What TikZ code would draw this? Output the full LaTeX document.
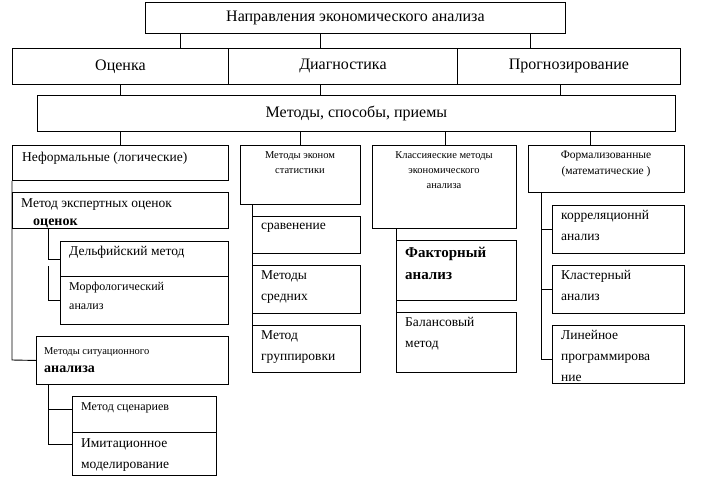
\documentclass[tikz,border=0pt]{standalone}
\usepackage{fontspec}
\setmainfont{Liberation Serif}
\usetikzlibrary{calc}
\tikzset{box/.style={draw,line width=0.9pt,inner sep=0pt,anchor=north west},
  wh/.style 2 args={minimum width=#1pt,minimum height=#2pt},
  ln/.style={line width=0.9pt},
  tl/.style={anchor=north west,align=left,inner sep=0pt,font=\fontsize{13.5}{21}\selectfont},
  sm/.style={anchor=north,align=center,inner sep=0pt,font=\fontsize{10.5}{15}\selectfont}}
\begin{document}
\begin{tikzpicture}[x=1pt,y=-1pt]
\useasboundingbox (0,0) rectangle (709,482);
% top levels
\node[box,wh={420}{31}] (top) at (145,2) {};
\node[font=\fontsize{16}{18}\selectfont] at (top.center) {Направления экономического анализа};
\node[box,wh={216}{36}] (oc) at (12,48) {};
\node[box,wh={229}{36}] (di) at (228,48) {};
\node[box,wh={223}{36}] (pr) at (457,48) {};
\node[font=\fontsize{16}{18}\selectfont] at (oc.center) {Оценка};
\node[font=\fontsize{16}{18}\selectfont] at (di.center) {Диагностика};
\node[font=\fontsize{16}{18}\selectfont] at (pr.center) {Прогнозирование};
\node[box,wh={638}{36}] (me) at (37,95) {};
\node[font=\fontsize{16}{18}\selectfont] at (me.center) {Методы, способы, приемы};
\foreach \x in {180,320,530} \draw[ln] (\x,33) -- (\x,48);
\foreach \x in {120,320,560} \draw[ln] (\x,84) -- (\x,95);
\foreach \x in {120,300,445,590} \draw[ln] (\x,131) -- (\x,145);
% left branch
\node[box,wh={216}{35}] (nf) at (12,145) {};
\node[tl] at (22,152) {Неформальные (логические)};
\node[box,wh={216}{36}] (ek) at (12,192) {};
\node[tl] at (21,198) {Метод экспертных оценок};
\node[anchor=north west,inner sep=0pt,font=\bfseries\fontsize{14}{16}\selectfont] (ok) at (33,219) {оценок};
\node[box,wh={168}{35}] (de) at (60,241) {};
\node[tl] at (69,246) {Дельфийский метод};
\node[box,wh={168}{48}] (mo) at (60,276) {};
\node[tl,font=\fontsize{12}{19}\selectfont] at (69,282) {Морфологический\\анализ};
\node[box,wh={192}{48}] (si) at (36,336) {};
\node[tl,font=\fontsize{10.5}{20}\selectfont] at (44,347) {Методы ситуационного};
\node[anchor=north west,inner sep=0pt,font=\bfseries\fontsize{14}{16}\selectfont] at (44,366) {анализа};
\node[box,wh={144}{36}] (sc) at (72,396) {};
\node[tl,font=\fontsize{12}{19}\selectfont] at (81,402) {Метод сценариев};
\node[box,wh={144}{43}] (im) at (72,432) {};
\node[tl] at (81,438) {Имитационное\\моделирование};
\draw[ln] (nf.south west) -- (12,360) -- (si.west);
\draw[ln] (48,228) |- (de.west);
\draw[ln] (48,266) |- (60,300);
\draw[ln] (48,384) |- (72,409);
\draw[ln] (48,409) |- (72,444);
% stats branch
\node[box,wh={120}{59}] (st) at (240,145) {};
\node[sm] at (300,151) {Методы эконом\\статистики};
\node[box,wh={108}{37}] (sr) at (252,216) {};
\node[tl] at (261,223) {сравенение};
\node[box,wh={108}{48}] (ms) at (252,265) {};
\node[tl] at (261,270) {Методы\\средних};
\node[box,wh={108}{47}] (mg) at (252,325) {};
\node[tl] at (261,330) {Метод\\группировки};
\draw[ln] (252,204) -- (252,216) (252,253) -- (252,265) (252,313) -- (252,325);
% classical
\node[box,wh={144}{83}] (kl) at (372,145) {};
\node[sm] at (444,151) {Классияеские методы\\экономического\\анализа};
\node[box,wh={120}{60}] (fa) at (396,240) {};
\node[tl,font=\bfseries\fontsize{15}{22}\selectfont] at (405,247) {Факторный\\анализ};
\node[box,wh={120}{60}] (ba) at (396,312) {};
\node[tl] at (405,317) {Балансовый\\метод};
\draw[ln] (396,228) -- (396,240) (396,300) -- (396,312);
% formalized
\node[box,wh={156}{47}] (fo) at (528,145) {};
\node[sm,font=\fontsize{11.5}{16}\selectfont] at (606,151) {Формализованные\\(математические )};
\node[box,wh={132}{48}] (ko) at (552,205) {};
\node[tl] at (561,210) {корреляционнй\\анализ};
\node[box,wh={132}{48}] (kt) at (552,265) {};
\node[tl] at (561,270) {Кластерный\\анализ};
\node[box,wh={132}{58}] (li) at (552,325) {};
\node[tl] at (561,330) {Линейное\\программирова\\ние};
\draw[ln] (541,192) -- (541,359) -- (552,359);
\draw[ln] (541,229) -- (552,229) (541,289) -- (552,289);
\end{tikzpicture}
\end{document}
